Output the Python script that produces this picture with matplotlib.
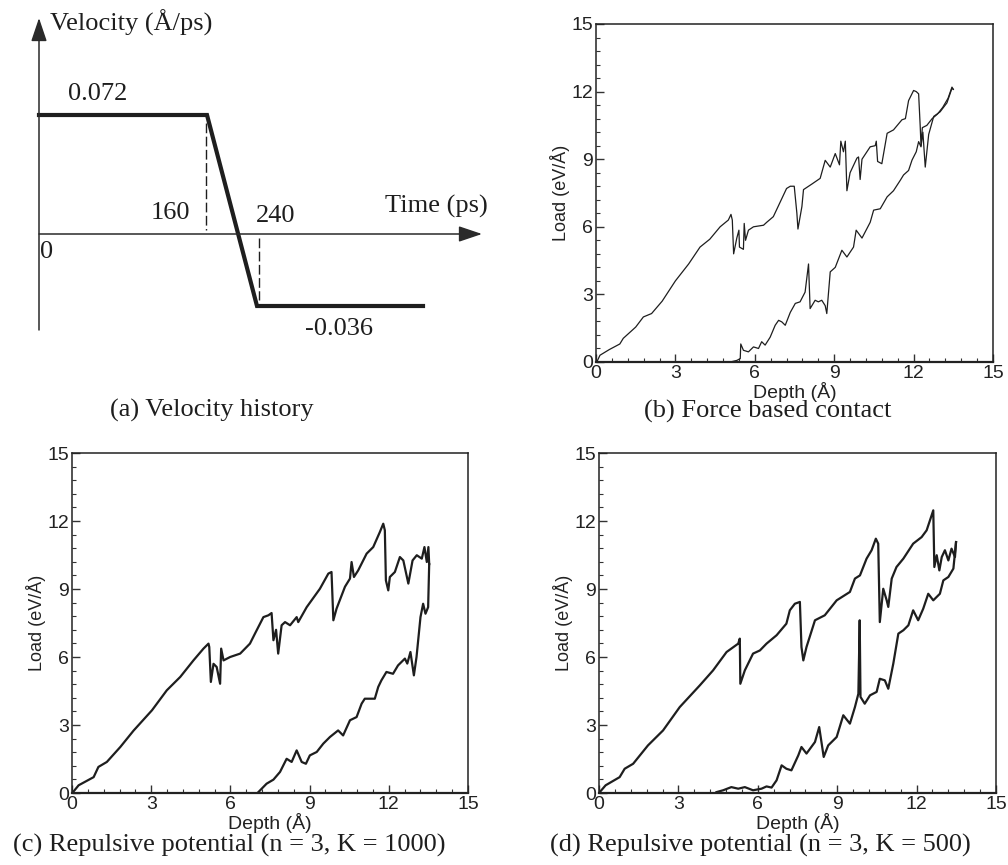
import numpy as np
import matplotlib
matplotlib.use("Agg")
import matplotlib.pyplot as plt
from matplotlib.ticker import MultipleLocator

# ---- (a) velocity history (schematic) ----
time_pts = [0, 160, 240, 400]
vel_pts = [0.072, 0.072, -0.036, -0.036]

# ---- (b) force based contact ----
b_load_d = [0.03, 0.15, 0.5, 0.9, 1.03, 1.5, 1.79, 2.1, 2.5, 3.0, 3.5, 3.93, 4.3, 4.69, 5.0,
            5.1, 5.15, 5.2, 5.32, 5.4, 5.42, 5.57, 5.6, 5.65, 5.76, 5.95, 6.33, 6.45, 6.7, 6.9,
            7.2, 7.34, 7.49, 7.59, 7.63, 7.78, 7.84, 8.16, 8.47, 8.66, 8.85, 9.04, 9.2, 9.25, 9.35,
            9.42, 9.48, 9.6, 9.86, 9.92, 9.98, 10.05, 10.36, 10.55, 10.59, 10.64, 10.8, 11.0, 11.24,
            11.56, 11.69, 11.81, 12.0, 12.1, 12.19, 12.25, 12.28, 12.33, 12.5, 12.7, 12.9, 13.1,
            13.3, 13.45, 13.5]
b_load_L = [0.0, 0.3, 0.55, 0.8, 1.05, 1.55, 2.0, 2.15, 2.7, 3.6, 4.35, 5.1, 5.45, 6.0, 6.3,
            6.55, 6.3, 4.8, 5.5, 5.85, 5.1, 5.0, 6.15, 5.4, 5.85, 6.0, 6.07, 6.2, 6.45, 6.95,
            7.7, 7.8, 7.8, 6.6, 5.9, 6.9, 7.65, 7.9, 8.15, 8.95, 8.65, 9.25, 8.75, 9.8, 9.33,
            9.8, 7.6, 8.4, 9.05, 9.1, 8.1, 9.0, 9.55, 9.6, 9.8, 8.9, 8.8, 10.15, 10.3,
            10.75, 10.8, 11.6, 12.05, 12.0, 11.9, 10.45, 9.6, 10.4, 10.5, 10.8, 11.0, 11.3,
            11.7, 12.2, 12.1]
b_unl_d = [5.07, 5.32, 5.45, 5.47, 5.57, 5.76, 5.95, 6.14, 6.26, 6.39, 6.58, 6.77, 6.9, 7.02,
           7.15, 7.34, 7.53, 7.71, 7.9, 8.03, 8.09, 8.28, 8.4, 8.53, 8.66, 8.72, 8.85, 9.04,
           9.29, 9.48, 9.73, 9.83, 10.05, 10.36, 10.49, 10.74, 11.0, 11.24, 11.5, 11.62, 11.81,
           11.94, 12.1, 12.19, 12.28, 12.35, 12.44, 12.57, 12.76, 13.0, 13.26, 13.45, 13.5]
b_unl_L = [0.0, 0.07, 0.15, 0.8, 0.52, 0.45, 0.67, 0.6, 0.9, 0.75, 1.1, 1.63, 1.85, 1.78,
           1.63, 2.2, 2.6, 2.67, 3.1, 4.35, 2.37, 2.74, 2.67, 2.74, 2.5, 2.15, 4.0, 4.2,
           4.96, 4.66, 5.1, 5.85, 5.5, 6.2, 6.74, 6.8, 7.33, 7.6, 8.07, 8.3, 8.5,
           8.96, 9.33, 9.78, 9.55, 10.2, 8.65, 10.1, 10.9, 11.1, 11.5, 12.15, 12.1]

# ---- (c) repulsive potential n=3, K=1000 ----
c_load_d = [0.04, 0.25, 0.82, 1.0, 1.32, 1.83, 2.33, 3.03, 3.59, 4.1, 4.6, 4.98, 5.17, 5.2,
            5.26, 5.36, 5.48, 5.61, 5.65, 5.74, 5.99, 6.37, 6.74, 6.93, 7.25, 7.44, 7.56, 7.63,
            7.73, 7.81, 7.94, 8.07, 8.26, 8.51, 8.57, 8.89, 9.39, 9.71, 9.83, 9.9, 10.02, 10.34,
            10.53, 10.59, 10.68, 10.84, 11.16, 11.41, 11.66, 11.79, 11.85, 11.89, 11.98, 12.04,
            12.23, 12.42, 12.55, 12.74, 12.9, 13.06, 13.25, 13.35, 13.44, 13.5, 13.53]
c_load_L = [0.04, 0.34, 0.7, 1.15, 1.37, 2.03, 2.75, 3.65, 4.53, 5.12, 5.85, 6.37, 6.59, 6.44,
            4.9, 5.7, 5.56, 4.82, 6.37, 5.85, 6.0, 6.15, 6.59, 7.03, 7.76, 7.84, 7.94, 6.74,
            7.2, 6.15, 7.4, 7.54, 7.4, 7.76, 7.54, 8.2, 9.01, 9.68, 9.75, 7.62, 8.13, 9.1,
            9.46, 10.19, 9.53, 9.82, 10.56, 10.85, 11.51, 11.88, 11.59, 9.38, 8.94, 9.53,
            9.75, 10.41, 10.26, 9.24, 10.26, 10.49, 10.34, 10.85, 10.19, 10.85, 10.1]
c_unl_d = [7.06, 7.37, 7.63, 7.88, 8.13, 8.32, 8.51, 8.7, 8.86, 9.01, 9.27, 9.52, 9.77, 10.08,
           10.27, 10.53, 10.78, 10.97, 11.09, 11.47, 11.6, 11.72, 11.91, 12.16, 12.35, 12.48,
           12.61, 12.7, 12.82, 12.95, 13.05, 13.2, 13.3, 13.39, 13.49, 13.53]
c_unl_L = [0.04, 0.41, 0.59, 0.93, 1.51, 1.37, 1.88, 1.37, 1.29, 1.66, 1.81, 2.18, 2.47, 2.76,
           2.54, 3.21, 3.35, 3.94, 4.16, 4.16, 4.68, 4.97, 5.34, 5.26, 5.63, 5.78,
           5.93, 5.71, 6.22, 5.19, 6.0, 7.76, 8.35, 7.91, 8.2, 10.1]

# ---- (d) repulsive potential n=3, K=500 ----
d_load_d = [0.03, 0.25, 0.78, 0.97, 1.29, 1.85, 2.42, 3.05, 3.81, 4.31, 4.82, 5.26, 5.32, 5.34,
            5.51, 5.82, 6.08, 6.33, 6.71, 7.08, 7.21, 7.4, 7.59, 7.65, 7.72, 7.84, 8.16, 8.53,
            8.98, 9.48, 9.67, 9.86, 10.11, 10.3, 10.46, 10.55, 10.61, 10.74, 10.87, 10.93, 11.06,
            11.24, 11.5, 11.87, 12.19, 12.38, 12.63, 12.67, 12.76, 12.86, 12.95, 13.07, 13.2,
            13.32, 13.45, 13.49]
d_load_L = [0.04, 0.34, 0.7, 1.07, 1.29, 2.1, 2.76, 3.79, 4.75, 5.41, 6.22, 6.59, 6.81, 4.82,
            5.41, 6.15, 6.29, 6.59, 6.96, 7.47, 8.06, 8.35, 8.43, 6.44, 5.85, 6.44, 7.62, 7.84,
            8.5, 8.87, 9.46, 9.6, 10.34, 10.71, 11.22, 11.0, 7.54, 9.01, 8.5, 8.21, 9.46,
            9.97, 10.34, 11.0, 11.29, 11.59, 12.47, 9.97, 10.49, 9.82, 10.41, 10.71, 10.26,
            10.78, 10.41, 11.07]
d_unl_d = [4.44, 4.69, 5.0, 5.26, 5.51, 5.82, 6.14, 6.33, 6.52, 6.71, 6.9, 7.08, 7.27, 7.53,
           7.65, 7.84, 8.16, 8.32, 8.49, 8.66, 8.98, 9.23, 9.48, 9.67, 9.8, 9.85, 9.88, 10.04,
           10.24, 10.49, 10.61, 10.8, 10.93, 11.12, 11.31, 11.5, 11.69, 11.87, 12.06, 12.25,
           12.44, 12.63, 12.88, 13.01, 13.2, 13.39, 13.49]
d_unl_L = [0.04, 0.12, 0.26, 0.19, 0.26, 0.12, 0.19, 0.29, 0.24, 0.56, 1.22, 1.07, 1.0, 1.66,
           2.03, 1.74, 2.25, 2.91, 1.59, 2.1, 2.47, 3.43, 3.06, 3.79, 4.38, 7.62, 4.24, 3.94,
           4.31, 4.46, 5.04, 4.97, 4.6, 5.71, 7.03, 7.18, 7.4, 8.06, 7.62, 8.13,
           8.79, 8.5, 8.79, 9.38, 9.53, 9.9, 11.07]

SERIF = ["Liberation Serif", "DejaVu Serif"]
SANS = ["Liberation Sans", "DejaVu Sans"]
INK = "#1e1e1e"

fig = plt.figure(figsize=(10.08, 8.65), dpi=100)
W, H = 1008, 865


def px_axes(left, top, right, bottom):
    return fig.add_axes([left / W, 1 - bottom / H, (right - left) / W, (bottom - top) / H])


# ---------- panel (a): schematic drawn in pixel coordinates ----------
ax_a = px_axes(0, 0, 500, 430)
ax_a.set_xlim(0, 500)
ax_a.set_ylim(430, 0)
ax_a.axis("off")

# schematic (not to scale) mapping of time / velocity to drawing positions
t2x = lambda t: np.interp(t, [0, 160, 240, 400], [39, 207, 257, 423])
v2y = lambda v: np.interp(v, [-0.036, 0, 0.072], [306, 234, 115])

arrow_kw = dict(arrowstyle="-|>,head_length=0.8,head_width=0.27", color="#2a2a2a",
                lw=1.1, mutation_scale=18, shrinkA=0, shrinkB=0)
ax_a.annotate("", xy=(39, 18), xytext=(39, 330), arrowprops=arrow_kw)
ax_a.annotate("", xy=(482, 234), xytext=(39, 234), arrowprops=arrow_kw)

ax_a.plot(t2x(time_pts), v2y(vel_pts), color=INK, lw=3.0, solid_joinstyle="miter")
ax_a.plot([206, 206], [v2y(0.072) + 8, v2y(0) - 4], color=INK, lw=1.0, ls=(0, (7, 2.5)))
ax_a.plot([259, 259], [v2y(0) + 4, v2y(-0.036) - 6], color=INK, lw=1.0, ls=(0, (7, 2.5)))

tk = dict(fontsize=19, family=SERIF, color=INK, va="center", ha="left")
ax_a.text(50, 23, "Velocity (Å/ps)", **tk)
ax_a.text(68, 94, "0.072", **tk)
ax_a.text(151, 213, "160", **tk)
ax_a.text(256, 216, "240", **tk)
ax_a.text(385, 206, "Time (ps)", **tk)
ax_a.text(40, 252, "0", **tk)
ax_a.text(305, 329, "-0.036", **tk)


# ---------- panels (b), (c), (d) ----------
def load_panel(ax, ld, lL, ud, uL, lw):
    ax.plot(ld, lL, color=INK, lw=lw)
    ax.plot(ud, uL, color=INK, lw=lw)
    ax.set_xlim(0, 15)
    ax.set_ylim(0, 15)
    ax.xaxis.set_major_locator(MultipleLocator(3))
    ax.yaxis.set_major_locator(MultipleLocator(3))
    ax.xaxis.set_minor_locator(MultipleLocator(0.6))
    ax.yaxis.set_minor_locator(MultipleLocator(0.6))
    ax.tick_params(which="both", direction="in", top=False, right=False,
                   color="#333333", labelsize=14, labelcolor="#222222", pad=2)
    ax.tick_params(which="major", length=6, width=1.0)
    ax.tick_params(which="minor", length=3, width=0.8)
    for lab in ax.get_xticklabels() + ax.get_yticklabels():
        lab.set_family(SANS)
    for s in ax.spines.values():
        s.set_linewidth(1.1)
        s.set_color("#222222")
    ax.spines["bottom"].set_linewidth(1.6)
    ax.set_xlabel("Depth (Å)", family=SANS, fontsize=14, color="#222222", labelpad=0)
    ax.set_ylabel("Load (eV/Å)", family=SANS, fontsize=13, color="#222222", labelpad=1)


ax_b = px_axes(596, 24, 993, 362)
load_panel(ax_b, b_load_d, b_load_L, b_unl_d, b_unl_L, 0.9)

ax_c = px_axes(72, 453, 468, 793)
load_panel(ax_c, c_load_d, c_load_L, c_unl_d, c_unl_L, 1.6)

ax_d = px_axes(599, 453, 996, 793)
load_panel(ax_d, d_load_d, d_load_L, d_unl_d, d_unl_L, 1.6)

cap = dict(fontsize=19, family=SERIF, color=INK, ha="center", va="center")
fig.text(212 / W, 1 - 410 / H, "(a) Velocity history", **cap)
fig.text(768 / W, 1 - 411 / H, "(b) Force based contact", **cap)
fig.text(229 / W, 1 - 845 / H, "(c) Repulsive potential (n = 3, K = 1000)", **cap)
fig.text(760 / W, 1 - 845 / H, "(d) Repulsive potential (n = 3, K = 500)", **cap)

fig.savefig("out.png", dpi=100, facecolor="white")
